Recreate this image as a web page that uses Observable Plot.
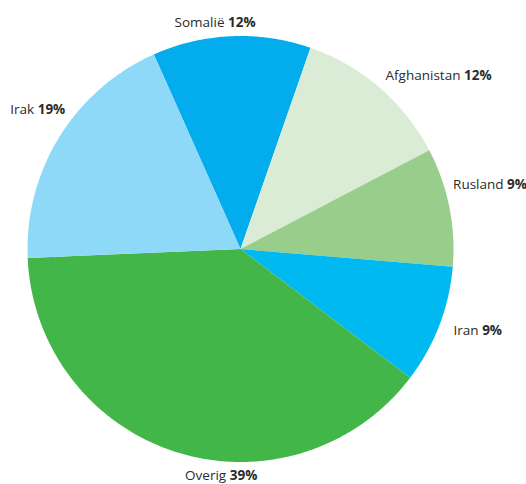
<!DOCTYPE html>
<html>
<head>
<meta charset="utf-8">
<script src="https://cdn.jsdelivr.net/npm/d3@7"></script>
<script src="https://cdn.jsdelivr.net/npm/@observablehq/plot@0.6"></script>
<style>
  html, body { margin: 0; padding: 0; background: #fff; }
  #chart svg { display: block; }
</style>
</head>
<body>
<div id="chart"></div>
<script>
// Data
const names = ["Somalië", "Afghanistan", "Rusland", "Iran", "Overig", "Irak"];
const values = [12, 12, 9, 9, 39, 19];
const colors = ["#03aded", "#daecd5", "#98cd8b", "#00b9f1", "#43b649", "#8ed8f8"];

// Layout
const W = 526, H = 484, cx = 240, cy = 248.5, R = 213;
const startDeg = -24;
const labelNudge = {
  "Somalië": [-16, -2], "Afghanistan": [-2, -3], "Rusland": [-8, -20],
  "Iran": [3, 1], "Overig": [48, 12], "Irak": [16, -21]
};

const pie = d3.pie().sort(null).value(d => d)
  .startAngle(startDeg * Math.PI / 180)
  .endAngle(startDeg * Math.PI / 180 + 2 * Math.PI)(values);

const pts = [];
const labels = [];
pie.forEach((s, i) => {
  const name = names[i];
  pts.push({name, x: 0, y: 0});
  const n = Math.max(2, Math.ceil((s.endAngle - s.startAngle) / (Math.PI / 360)));
  for (let k = 0; k <= n; k++) {
    const a = s.startAngle + (s.endAngle - s.startAngle) * k / n;
    pts.push({name, x: R * Math.sin(a), y: -R * Math.cos(a)});
  }
  pts.push({name, x: 0, y: 0});
  const m = (s.startAngle + s.endAngle) / 2;
  const sx = Math.sin(m);
  const [dx, dy] = labelNudge[name];
  labels.push({
    name, text: name + "|" + values[i] + "%",
    x: (R + 12) * sx + dx, y: -(R + 12) * Math.cos(m) + dy,
    anchor: sx > 0.3 ? "start" : sx < -0.3 ? "end" : "middle"
  });
});

const textOpts = {fontSize: 13.5, fill: "#2b2b2b", fontFamily: "'Open Sans', sans-serif"};

const plot = Plot.plot({
  width: W, height: H,
  margin: 0,
  x: {domain: [-cx, W - cx], range: [0, W], axis: null},
  y: {domain: [-cy, H - cy], range: [0, H], axis: null},
  color: {domain: names, range: colors},
  style: {fontFamily: "'Open Sans', sans-serif", background: "#fff"},
  marks: [
    Plot.line(pts, {x: "x", y: "y", z: "name", fill: "name", stroke: "none", curve: "linear"}),
    ...["start", "middle", "end"].map(anchor =>
      Plot.text(labels.filter(d => d.anchor === anchor), {
        x: "x", y: "y", text: "text", textAnchor: anchor, ...textOpts
      })
    )
  ]
});

// Split label text into regular name + bold percentage
plot.querySelectorAll("text").forEach(t => {
  const s = t.textContent;
  if (!s.includes("|")) return;
  const [a, b] = s.split("|");
  t.textContent = "";
  const ns = "http://www.w3.org/2000/svg";
  const t1 = document.createElementNS(ns, "tspan");
  t1.textContent = a + " ";
  const t2 = document.createElementNS(ns, "tspan");
  t2.setAttribute("font-weight", "bold");
  t2.textContent = b;
  t.appendChild(t1);
  t.appendChild(t2);
});

document.getElementById("chart").appendChild(plot);
</script>
</body>
</html>
